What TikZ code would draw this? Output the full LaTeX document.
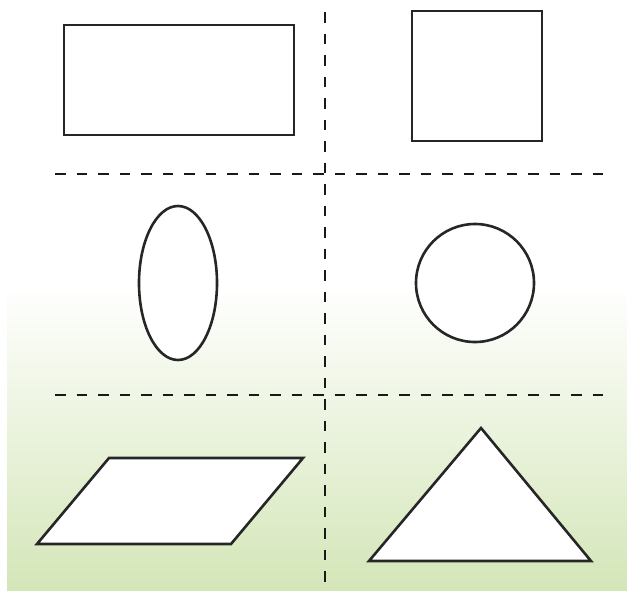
\documentclass[tikz,border=0pt]{standalone}
\begin{document}
\begin{tikzpicture}[x=1pt,y=-1pt,
  figshape/.style={draw=black!85,line width=2.6pt,fill=white},
  divider/.style={draw=black!90,line width=2.6pt,dash pattern=on 10.5pt off 11pt}]
\definecolor{bggreen}{RGB}{212,230,184}
\useasboundingbox (0,0) rectangle (627,590);
\fill[white] (0,0) rectangle (627,590);
\shade[top color=white,bottom color=bggreen] (7,285) rectangle (627,590);
% dividers
\coordinate (h1l) at (55,174); \coordinate (h1r) at (605,174);
\coordinate (h2l) at (55,395); \coordinate (h2r) at (605,395);
\coordinate (vt) at (325,12); \coordinate (vb) at (325,588);
\draw[divider] (h1l) -- (h1r);
\draw[divider] (h2l) -- (h2r);
\draw[divider] (vt) -- (vb);
% shapes
\draw[figshape] (64,25) rectangle (294,135);
\draw[figshape] (412,11) rectangle (542,141);
\draw[figshape] (178,283) ellipse [x radius=39, y radius=77];
\draw[figshape] (475,283) circle [radius=59];
\draw[figshape] (37,544) -- (231,544) -- (303,458) -- (109,458) -- cycle;
\draw[figshape] (369,561) -- (591,561) -- (481,428) -- cycle;
\end{tikzpicture}
\end{document}
